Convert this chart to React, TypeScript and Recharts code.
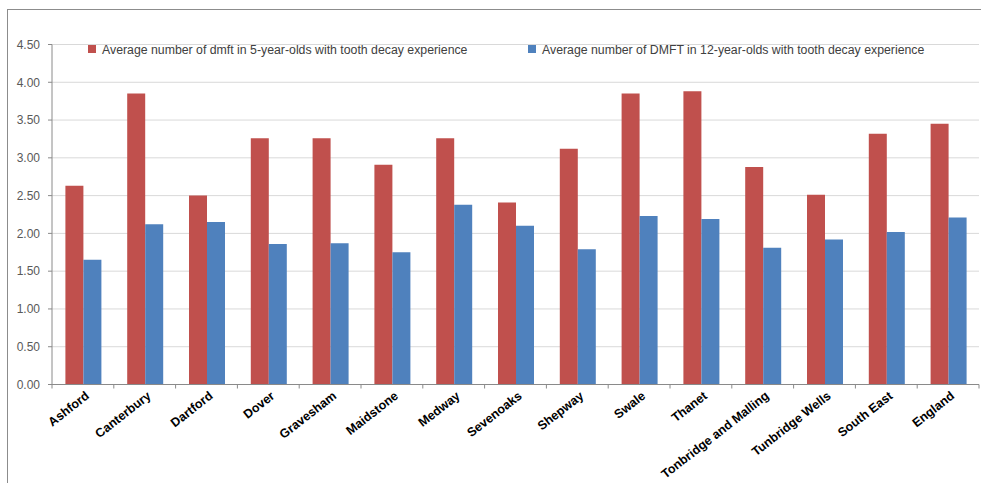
import React from 'react';
import { BarChart, Bar, XAxis, YAxis, CartesianGrid, Legend } from 'recharts';

const categories = [
  'Ashford', 'Canterbury', 'Dartford', 'Dover', 'Gravesham', 'Maidstone', 'Medway',
  'Sevenoaks', 'Shepway', 'Swale', 'Thanet', 'Tonbridge and Malling', 'Tunbridge Wells',
  'South East', 'England',
];
const dmft5 = [2.63, 3.85, 2.50, 3.26, 3.26, 2.91, 3.26, 2.41, 3.12, 3.85, 3.88, 2.88, 2.51, 3.32, 3.45];
const dmft12 = [1.65, 2.12, 2.15, 1.86, 1.87, 1.75, 2.38, 2.10, 1.79, 2.23, 2.19, 1.81, 1.92, 2.02, 2.21];
const yTicks = [0, 0.5, 1, 1.5, 2, 2.5, 3, 3.5, 4, 4.5];
const seriesNames = [
  'Average number of dmft in 5-year-olds with tooth decay experience',
  'Average number of DMFT in 12-year-olds with tooth decay experience',
];

const data = categories.map((name, i) => ({ name, a: dmft5[i], b: dmft12[i] }));

const W = 981;
const H = 483;
const PLOT_LEFT = 52;
const PLOT_RIGHT = 979;
const BAND = (PLOT_RIGHT - PLOT_LEFT) / categories.length;
const FONT = '"Liberation Sans", Arial, sans-serif';
const AXIS_COLOR = '#8a8a8a';

const CategoryTick = (props: any) => {
  const { x, y, payload, index } = props;
  const axisY = y - 6;
  const half = BAND / 2;
  const ax = x + 1;
  const ay = y - 1;
  return (
    <g>
      <line x1={x - half} x2={x - half} y1={axisY} y2={axisY + 4} stroke={AXIS_COLOR} />
      {index === categories.length - 1 && (
        <line x1={x + half} x2={x + half} y1={axisY} y2={axisY + 4} stroke={AXIS_COLOR} />
      )}
      <text
        x={ax}
        y={ay}
        dy={10}
        textAnchor="end"
        transform={`rotate(-38, ${ax}, ${ay})`}
        fontFamily={FONT}
        fontSize={12.5}
        fontWeight="bold"
        fill="#000"
      >
        {payload.value}
      </text>
    </g>
  );
};

const LegendContent = (props: any) => {
  const { payload } = props;
  const items = [...(payload || [])].sort((p: any, q: any) =>
    String(p.dataKey).localeCompare(String(q.dataKey))
  );
  const positions = [88, 528];
  return (
    <svg width={W} height={16} style={{ display: 'block' }}>
      {items.map((p: any, i: number) => (
        <g key={i}>
          <rect x={positions[i]} y={4} width={8} height={8} fill={p.color} />
          <text x={positions[i] + 14} y={12.5} fontFamily={FONT} fontSize={12.3} fill="#404040">
            {p.value}
          </text>
        </g>
      ))}
    </svg>
  );
};

export default function App() {
  return (
    <div style={{ position: 'absolute', left: 0, top: 0, width: W, height: H, background: '#fff' }}>
      <div
        style={{
          position: 'absolute',
          left: 7,
          top: 9,
          width: W - 7,
          height: H - 9,
          borderLeft: '1px solid #8c8c8c',
          borderTop: '1px solid #8c8c8c',
          boxSizing: 'border-box',
        }}
      />
      <div style={{ position: 'absolute', left: 0, top: 0 }}>
        <BarChart
          width={W}
          height={H}
          data={data}
          margin={{ top: 44.5, right: W - PLOT_RIGHT, bottom: 0, left: 0 }}
          barCategoryGap={13.4}
          barGap={0}
        >
          <CartesianGrid horizontal vertical={false} stroke="#d9d9d9" />
          <XAxis
            dataKey="name"
            interval={0}
            height={98.5}
            tickLine={false}
            tickSize={4}
            tickMargin={2}
            stroke={AXIS_COLOR}
            tick={<CategoryTick />}
          />
          <YAxis
            width={PLOT_LEFT}
            domain={[0, 4.5]}
            ticks={yTicks}
            tickFormatter={(v: number) => v.toFixed(2)}
            tickSize={4}
            tickMargin={8}
            stroke={AXIS_COLOR}
            tick={{ fontFamily: FONT, fontSize: 12, fill: '#595959' }}
            interval={0}
          />
          <Legend
            layout="horizontal"
            verticalAlign="middle"
            align="center"
            wrapperStyle={{ top: 41, left: 0, width: W }}
            content={<LegendContent />}
          />
          <Bar dataKey="a" name={seriesNames[0]} fill="#C0504D" isAnimationActive={false} />
          <Bar dataKey="b" name={seriesNames[1]} fill="#4F81BD" isAnimationActive={false} />
        </BarChart>
      </div>
    </div>
  );
}
